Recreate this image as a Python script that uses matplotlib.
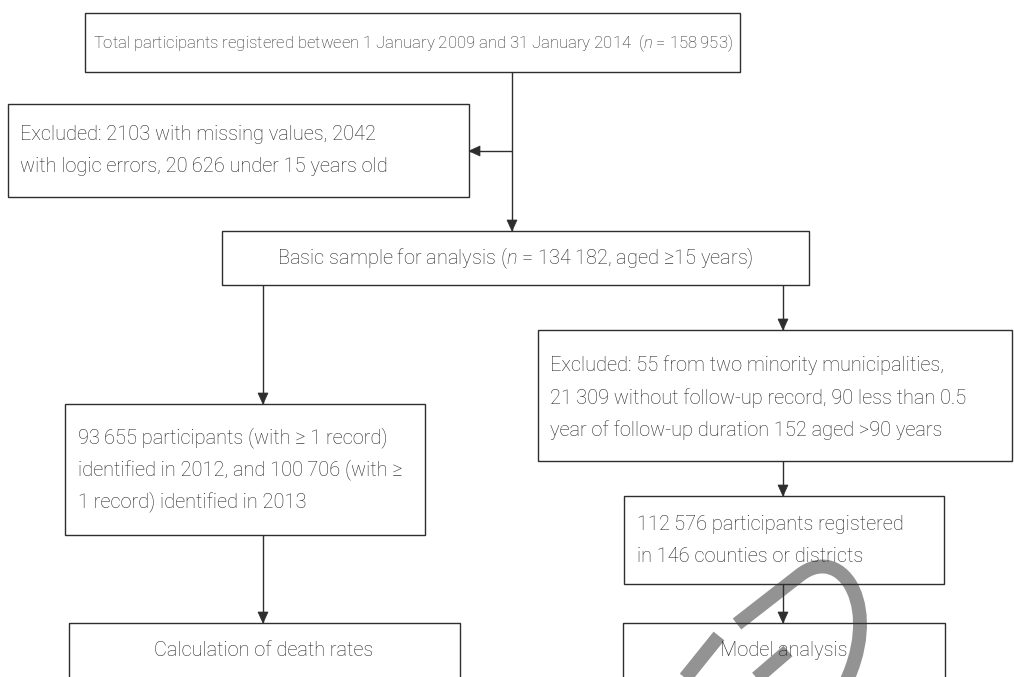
import matplotlib
matplotlib.use("Agg")
import matplotlib.pyplot as plt
from matplotlib.patches import Rectangle, Polygon, PathPatch
from matplotlib.path import Path

# ---- text content of the flowchart ----
top_text = "Total participants registered between 1 January 2009 and 31 January 2014  ($n$ = 158\u2009953)"
excluded_1_lines = ["Excluded: 2103 with missing values, 2042",
                    "with logic errors, 20\u2009626 under 15 years old"]
basic_text = "Basic sample for analysis ($n$ = 134\u2009182, aged \u226515 years)"
excluded_2_lines = ["Excluded: 55 from two minority municipalities,",
                    "21\u2009309 without follow-up record, 90 less than 0.5",
                    "year of follow-up duration 152 aged >90 years"]
identified_lines = ["93\u2009655 participants (with \u2265 1 record)",
                    "identified in 2012, and 100\u2009706 (with \u2265",
                    "1 record) identified in 2013"]
registered_lines = ["112\u2009576 participants registered",
                    "in 146 counties or districts"]
death_text = "Calculation of death rates"
model_text = "Model analysis"

FAM = ["Roboto", "DejaVu Sans"]
plt.rcParams["font.family"] = FAM
plt.rcParams["font.weight"] = "light"
plt.rcParams["mathtext.fontset"] = "custom"
plt.rcParams["mathtext.rm"] = "Roboto:light"
plt.rcParams["mathtext.it"] = "Roboto:italic:light"

W, H = 1014, 677
fig = plt.figure(figsize=(W / 100, H / 100), dpi=100)
ax = fig.add_axes([0, 0, 1, 1])
ax.set_xlim(0, W)
ax.set_ylim(H, 0)
ax.axis("off")

LC = "#2e2e2e"
TC = "#262626"
FS = 14.4
FS_TOP = 12.0
LW = 1.0

# watermark (grey stroked letter fragments)
WMC = "#939393"
wm_verts = [(737, 624), (800, 575), (843, 542), (885, 610), (842, 690)]
wm_codes = [Path.MOVETO, Path.LINETO, Path.CURVE4, Path.CURVE4, Path.CURVE4]
ax.add_patch(PathPatch(Path(wm_verts, wm_codes), fill=False, edgecolor=WMC,
                       lw=10, capstyle="butt", joinstyle="round", zorder=0))
ax.plot([752, 788], [682, 651], color=WMC, lw=10, solid_capstyle="butt", zorder=0)
ax.plot([719, 682], [636, 682], color=WMC, lw=10, solid_capstyle="butt", zorder=0)


def box(x0, y0, x1, y1):
    ax.add_patch(Rectangle((x0, y0), x1 - x0, y1 - y0, fill=False,
                           edgecolor=LC, lw=LW, zorder=2))


def arrow(x0, y0, x1, y1):
    ax.plot([x0, x1], [y0, y1], color=LC, lw=LW, zorder=3, solid_capstyle="butt")
    hl, hw = 11, 5
    if x0 == x1:
        s = 1 if y1 > y0 else -1
        tri = [(x1, y1), (x1 - hw, y1 - s * hl), (x1 + hw, y1 - s * hl)]
    else:
        s = 1 if x1 > x0 else -1
        tri = [(x1, y1), (x1 - s * hl, y1 - hw), (x1 - s * hl, y1 + hw)]
    ax.add_patch(Polygon(tri, closed=True, facecolor=LC, edgecolor=LC, lw=0.5, zorder=3))


def ctext(x, y, s, fs=FS):
    ax.text(x, y, s, ha="center", va="center", fontsize=fs, color=TC, zorder=4)


def ltext(x, ys, lines):
    for yy, s in zip(ys, lines):
        ax.text(x, yy, s, ha="left", va="center", fontsize=FS, color=TC, zorder=4)


# boxes
box(85, 13, 740, 72)
ctext(413, 43, top_text, FS_TOP)

box(8, 104, 469, 197)
ltext(20, [134, 167], excluded_1_lines)

box(222, 231, 809, 285)
ctext(515, 258, basic_text)

box(538, 330, 1012, 461)
ltext(550, [365, 398, 430], excluded_2_lines)

box(65, 404, 425, 535)
ltext(78, [438, 470, 502], identified_lines)

box(624, 496, 944, 584)
ltext(637, [524, 556], registered_lines)

box(69, 623, 460, 720)
ctext(264, 650, death_text)

box(623, 623, 945, 720)
ctext(784, 650, model_text)

# arrows
arrow(512, 72, 512, 231)
arrow(512, 151, 469, 151)
arrow(263, 285, 263, 404)
arrow(783, 285, 783, 330)
arrow(783, 461, 783, 496)
arrow(263, 535, 263, 623)
arrow(783, 584, 783, 623)

fig.savefig("out.png", dpi=100, facecolor="white")
